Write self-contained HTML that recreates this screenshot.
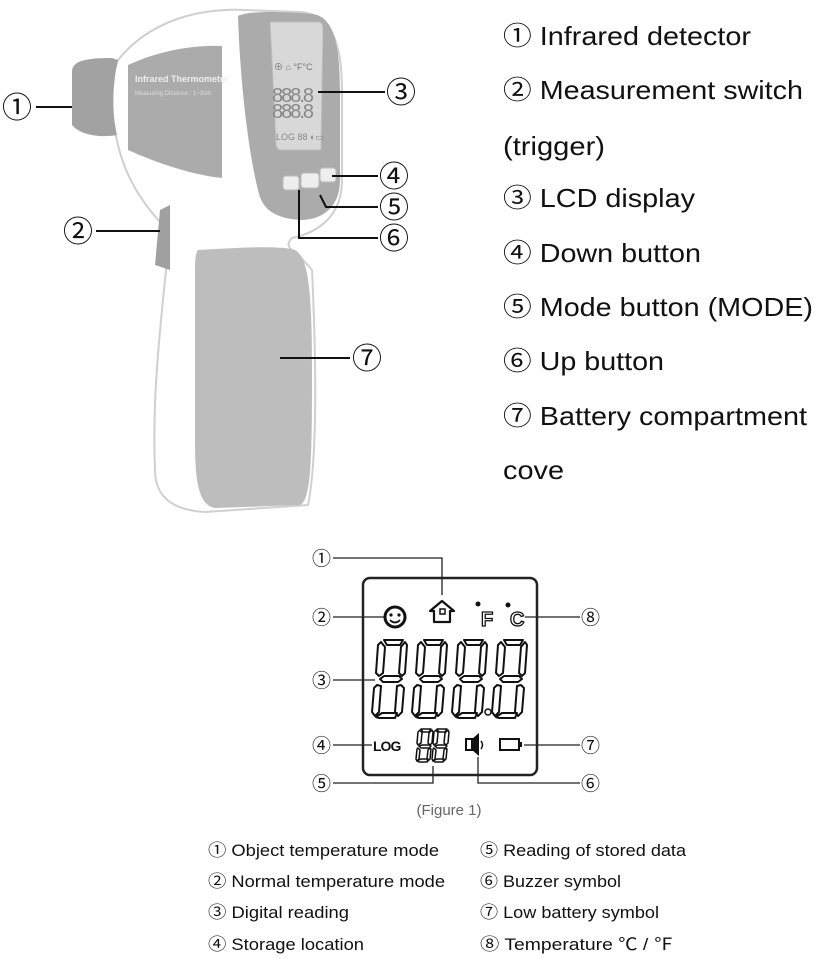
<!DOCTYPE html>
<html><head><meta charset="utf-8"><style>
html,body{margin:0;padding:0;background:#fff;width:819px;height:959px;overflow:hidden}
svg{display:block}
text{font-family:"Liberation Sans","Noto Sans CJK SC",sans-serif}
</style></head><body>
<svg width="819" height="959" viewBox="0 0 819 959" xmlns="http://www.w3.org/2000/svg">
<defs>
<g id="dg" fill="none" stroke="#111" stroke-width="2" stroke-linejoin="round">
<polygon points="9,0 28,0 25,5 12,5"/>
<polygon points="6,2 10,7 8,33 4,36 1,33 3,5"/>
<polygon points="30,2 32,5 30,33 27,36 24,33 26,7"/>
<polygon points="5,39 9,36 24,36 27,39 23,42 8,42"/>
<polygon points="2,45 6,46 4,72 0,76 -3,72 -1,48"/>
<polygon points="26,45 29,48 27,72 23,76 20,72 22,46"/>
<polygon points="4,78 20,78 22,73 7,73 1,77"/>
</g>
<g id="sd" fill="none" stroke="#111" stroke-width="1.5" stroke-linejoin="round">
<polygon points="4,0 14,0 12,3 6,3"/>
<polygon points="3,1 5,4 4,14 1,16 0,14 1,3"/>
<polygon points="15,1 16,3 15,14 13,16 11,14 12,4"/>
<polygon points="2,17 5,16 12,16 14,17 12,19 4,19"/>
<polygon points="1,19 3,21 2,30 0,32 -1,30 0,20"/>
<polygon points="13,19 14,20 13,30 11,32 10,30 11,21"/>
<polygon points="2,33 10,33 11,30 4,30 0,32"/>
</g>
</defs>

<!-- thermometer -->
<g>
<path d="M118,60 C150,20 200,8 245,10 L300,12 C330,14 342,40 342,90 L342,180 C342,215 320,232 292,238 C285,245 290,250 296,252 L312,270 C318,400 315,470 308,505 L205,512 C170,510 155,495 155,470 C152,400 160,330 165,280 C168,255 170,235 160,222 C140,200 125,175 118,145 C110,115 110,80 118,60 Z" fill="#fff" stroke="#d0d0d0" stroke-width="2"/>
<path d="M72,72 C72,62 82,58 112,58 L118,60 C112,85 112,115 117,135 C100,138 80,135 72,125 Z" fill="#a2a2a2"/>
<path d="M160,210 L170,205 L170,270 L155,265 Z" fill="#a0a0a0"/>
<path d="M238,16 C250,10 290,12 312,14 C332,16 340,40 340,90 L340,180 C340,205 325,220 300,220 C275,218 262,210 258,190 C248,150 240,80 238,16 Z" fill="#ababab"/>
<path d="M270,22 L318,22 C322,22 323,25 323,30 L321,150 L281,150 C277,150 276,147 276,143 Z" fill="#d8d8d8" stroke="#bbb"/>
<text x="274" y="70" font-size="9" fill="#777">⊕ ⌂ °F°C</text>
<text x="272" y="102" font-size="20" fill="#888" textLength="42">888.8</text>
<text x="272" y="118" font-size="20" fill="#888" textLength="42">888.8</text>
<text x="276" y="140" font-size="9" fill="#888">LOG 88 ◐▭</text>
<rect x="283" y="176" width="16" height="14" rx="3" fill="#eee" stroke="#bbb"/>
<rect x="301" y="173" width="18" height="15" rx="3" fill="#eee" stroke="#bbb"/>
<rect x="320" y="168" width="16" height="14" rx="3" fill="#eee" stroke="#bbb"/>
<path d="M128,65 C165,48 200,45 222,46 L222,178 C190,175 150,160 128,150 Z" fill="#ababab"/>
<text x="135" y="82" font-size="9" fill="#eee" font-weight="bold">Infrared Thermometer</text>
<text x="135" y="95" font-size="6" fill="#ddd">Measuring Distance : 1~3cm</text>
<path d="M198,250 C230,248 280,245 295,250 C310,258 312,300 312,380 C312,470 310,500 300,505 L215,508 C198,505 195,480 195,440 L195,270 C195,258 196,252 198,250 Z" fill="#bdbdbd"/>
</g>
<g stroke="#111" stroke-width="2" fill="none">
<line x1="36" y1="107" x2="72" y2="107"/>
<line x1="96" y1="231" x2="160" y2="231"/>
<line x1="318" y1="92" x2="385" y2="92"/>
<line x1="332" y1="176" x2="378" y2="176"/>
<polyline points="320,195 326,207 378,207"/>
<polyline points="299,190 299,238 378,238"/>
<line x1="280" y1="358" x2="350" y2="358"/>
</g>
<g font-size="30" fill="#111">
<text x="2" y="118">①</text>
<text x="63" y="242">②</text>
<text x="386" y="103">③</text>
<text x="379" y="187">④</text>
<text x="379" y="218">⑤</text>
<text x="379" y="249">⑥</text>
<text x="352" y="369">⑦</text>
</g>

<!-- right text -->
<g font-size="26" fill="#111">
<text x="503" y="45" textLength="248" lengthAdjust="spacingAndGlyphs">① Infrared detector</text>
<text x="503" y="99" textLength="300" lengthAdjust="spacingAndGlyphs">② Measurement switch</text>
<text x="503" y="155" textLength="102" lengthAdjust="spacingAndGlyphs">(trigger)</text>
<text x="503" y="207" textLength="192" lengthAdjust="spacingAndGlyphs">③ LCD display</text>
<text x="503" y="262" textLength="198" lengthAdjust="spacingAndGlyphs">④ Down button</text>
<text x="503" y="316" textLength="310" lengthAdjust="spacingAndGlyphs">⑤ Mode button (MODE)</text>
<text x="503" y="370" textLength="161" lengthAdjust="spacingAndGlyphs">⑥ Up button</text>
<text x="503" y="425" textLength="304" lengthAdjust="spacingAndGlyphs">⑦ Battery compartment</text>
<text x="503" y="479" textLength="61" lengthAdjust="spacingAndGlyphs">cove</text>
</g>

<!-- LCD figure -->
<rect x="363" y="578" width="174" height="197" rx="7" fill="none" stroke="#222" stroke-width="2.5"/>
<g stroke="#222" stroke-width="1.3" fill="none">
<polyline points="333,558 442,558 442,595"/>
<line x1="333" y1="617" x2="384" y2="617"/>
<line x1="525" y1="617" x2="580" y2="617"/>
<line x1="333" y1="680" x2="375" y2="680"/>
<line x1="333" y1="745" x2="372" y2="745"/>
<line x1="524" y1="745" x2="580" y2="745"/>
<polyline points="333,783 433,783 433,766"/>
<polyline points="580,783 478,783 478,757"/>
</g>
<g font-size="19" fill="#111">
<text x="312" y="565">①</text>
<text x="312" y="624">②</text>
<text x="312" y="687">③</text>
<text x="312" y="752">④</text>
<text x="312" y="790">⑤</text>
<text x="581" y="624">⑧</text>
<text x="581" y="752">⑦</text>
<text x="581" y="790">⑥</text>
</g>
<!-- icons -->
<circle cx="395" cy="617" r="10" fill="none" stroke="#111" stroke-width="3"/>
<circle cx="391" cy="615" r="1.6" fill="#111"/><circle cx="399" cy="615" r="1.6" fill="#111"/>
<path d="M390,620 Q395,625 400,620" stroke="#111" stroke-width="1.8" fill="none"/>
<path d="M430,611 L442,601 L454,611 L450,611 L450,622 L434,622 L434,611 Z" fill="none" stroke="#111" stroke-width="2.2" stroke-linejoin="round"/>
<rect x="440" y="609" width="5" height="5" fill="none" stroke="#111" stroke-width="1.5"/>
<circle cx="478" cy="604" r="2.5" fill="#111"/>
<text x="481" y="626" font-size="20" font-weight="bold" fill="none" stroke="#111" stroke-width="1.3">F</text>
<circle cx="508" cy="605" r="2.5" fill="#111"/>
<text x="510" y="626" font-size="20" font-weight="bold" fill="none" stroke="#111" stroke-width="1.3">C</text>
<use href="#dg" x="375" y="640"/>
<use href="#dg" x="415" y="640"/>
<use href="#dg" x="455" y="640"/>
<use href="#dg" x="495" y="640"/>
<circle cx="488" cy="712" r="3" fill="none" stroke="#111" stroke-width="1.5"/>
<text x="373" y="751" font-size="14" font-weight="bold" fill="#111" letter-spacing="-1">LOG</text>
<use href="#sd" x="417" y="729"/>
<use href="#sd" x="433" y="729"/>
<rect x="466" y="739" width="6" height="11" fill="none" stroke="#111" stroke-width="2"/>
<path d="M472,739 L479,733 L479,756 L472,750" fill="#111"/>
<path d="M481,741 Q484,745 481,749" stroke="#111" stroke-width="1.5" fill="none"/>
<rect x="500" y="739" width="19" height="11" fill="none" stroke="#111" stroke-width="2"/>
<rect x="519" y="742" width="3" height="5" fill="#111"/>
<text x="449" y="815" font-size="15" fill="#666" text-anchor="middle">(Figure 1)</text>

<!-- bottom legend -->
<g font-size="17" fill="#111">
<text x="208" y="856" textLength="231" lengthAdjust="spacingAndGlyphs">① Object temperature mode</text>
<text x="208" y="887" textLength="237" lengthAdjust="spacingAndGlyphs">② Normal temperature mode</text>
<text x="208" y="918" textLength="141" lengthAdjust="spacingAndGlyphs">③ Digital reading</text>
<text x="208" y="950" textLength="156" lengthAdjust="spacingAndGlyphs">④ Storage location</text>
<text x="480" y="856" textLength="206" lengthAdjust="spacingAndGlyphs">⑤ Reading of stored data</text>
<text x="480" y="887" textLength="141" lengthAdjust="spacingAndGlyphs">⑥ Buzzer symbol</text>
<text x="480" y="918" textLength="179" lengthAdjust="spacingAndGlyphs">⑦ Low battery symbol</text>
<text x="480" y="950" textLength="193" lengthAdjust="spacingAndGlyphs">⑧ Temperature ℃ / ℉</text>
</g>
</svg>
</body></html>
